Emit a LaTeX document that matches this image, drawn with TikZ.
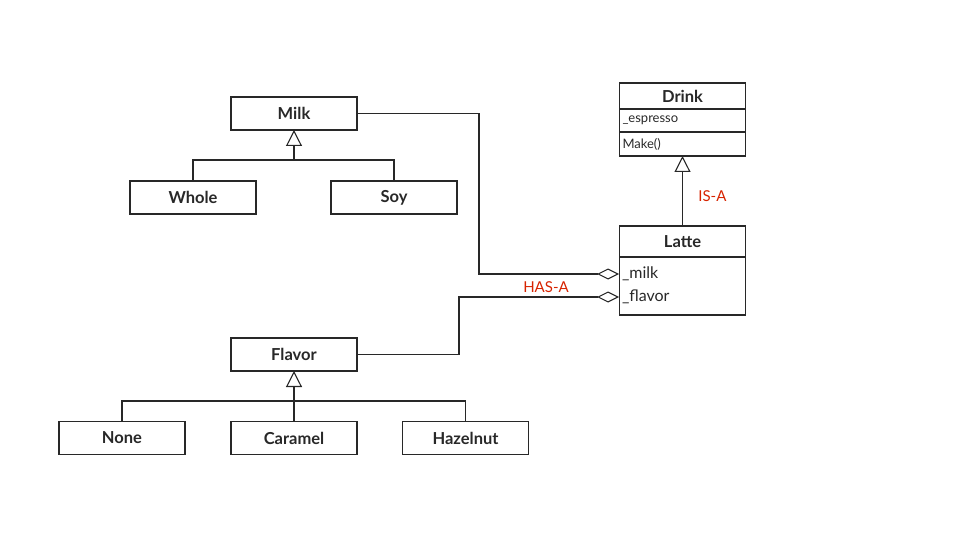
\documentclass[tikz,border=0pt]{standalone}
\usepackage{fontspec}
\setmainfont{Lato}
\usetikzlibrary{arrows.meta, positioning}

\definecolor{ink}{RGB}{40,40,40}
\definecolor{relred}{RGB}{215,35,0}

\tikzset{
  classbox/.style={draw=ink, line width=1.1pt, minimum width=126pt, minimum height=33pt,
    inner sep=0pt, outer sep=0pt, font=\bfseries\fontsize{16.5}{19}\selectfont, text=ink},
  rowbox/.style={draw=ink, line width=1.1pt, minimum width=126pt, text width=120pt, align=left,
    inner xsep=3pt, inner ysep=0pt, outer sep=0pt, text=ink},
  attr/.style={anchor=west, inner xsep=3pt, inner ysep=0pt, outer sep=0pt, text=ink,
    font=\fontsize{16}{18}\selectfont},
  line/.style={draw=ink, line width=1.1pt},
  isa/.style={line, -{Triangle[open, length=16pt, width=16pt]}},
  hasa/.style={line, -{Diamond[open, length=22pt, width=11pt]}},
  rel/.style={text=relred, font=\fontsize{15}{18}\selectfont}
}

\begin{document}
\begin{tikzpicture}[x=1pt, y=-1pt, node distance=0pt]
    \useasboundingbox (0,0) rectangle (960,540);

    % milk side
    \node[classbox] (milk) at (294,113.5) {Milk};
    \node[classbox] (whole) at (193,197.5) {Whole};
    \node[classbox] (soy) at (394,197.5) {Soy};
    \coordinate (milkjoin) at (294,160);
    \draw[line] (whole.north) |- (milkjoin) -| (soy.north);
    \draw[isa] (milkjoin) -- (milk.south);

    % flavor side
    \node[classbox] (flavor) at (294,354.5) {Flavor};
    \node[classbox] (none) at (122,438) {None};
    \node[classbox] (caramel) at (294,438) {Caramel};
    \node[classbox] (hazelnut) at (465.5,438) {Hazelnut};
    \coordinate (flavorjoin) at (294,401);
    \draw[line] (none.north) |- (flavorjoin) -| (hazelnut.north);
    \draw[isa] (caramel.north) -- (flavor.south);

    % drink
    \node[classbox, minimum height=26pt] (drink) at (682.5,96) {Drink};
    \node[rowbox, minimum height=23pt, below=of drink, font=\fontsize{13}{15}\selectfont] (drinkattr) {\_espresso};
    \node[rowbox, minimum height=24pt, below=of drinkattr, font=\fontsize{13}{15}\selectfont] (drinkops) {Make()};

    % latte
    \node[classbox, minimum height=31pt] (latte) at (682.5,241.5) {Latte};
    \node[rowbox, minimum height=58pt, below=of latte] (latteattr) {};
    \node[attr] (milkattr) at (619,274) {\_milk};
    \node[attr] (flavorattr) at (619,297) {\_flavor};

    \draw[isa] (latte.north) -- (drinkops.south) node [rel, pos=0.43, right=12pt] {IS-A};
    \draw[hasa] (milk.east) -- ++(122,0) |- (milkattr.west);
    \draw[hasa] (flavor.east) -- ++(102,0) |- (flavorattr.west);
    \node[rel] (hasa) at (546,287) {HAS-A};
\end{tikzpicture}
\end{document}
